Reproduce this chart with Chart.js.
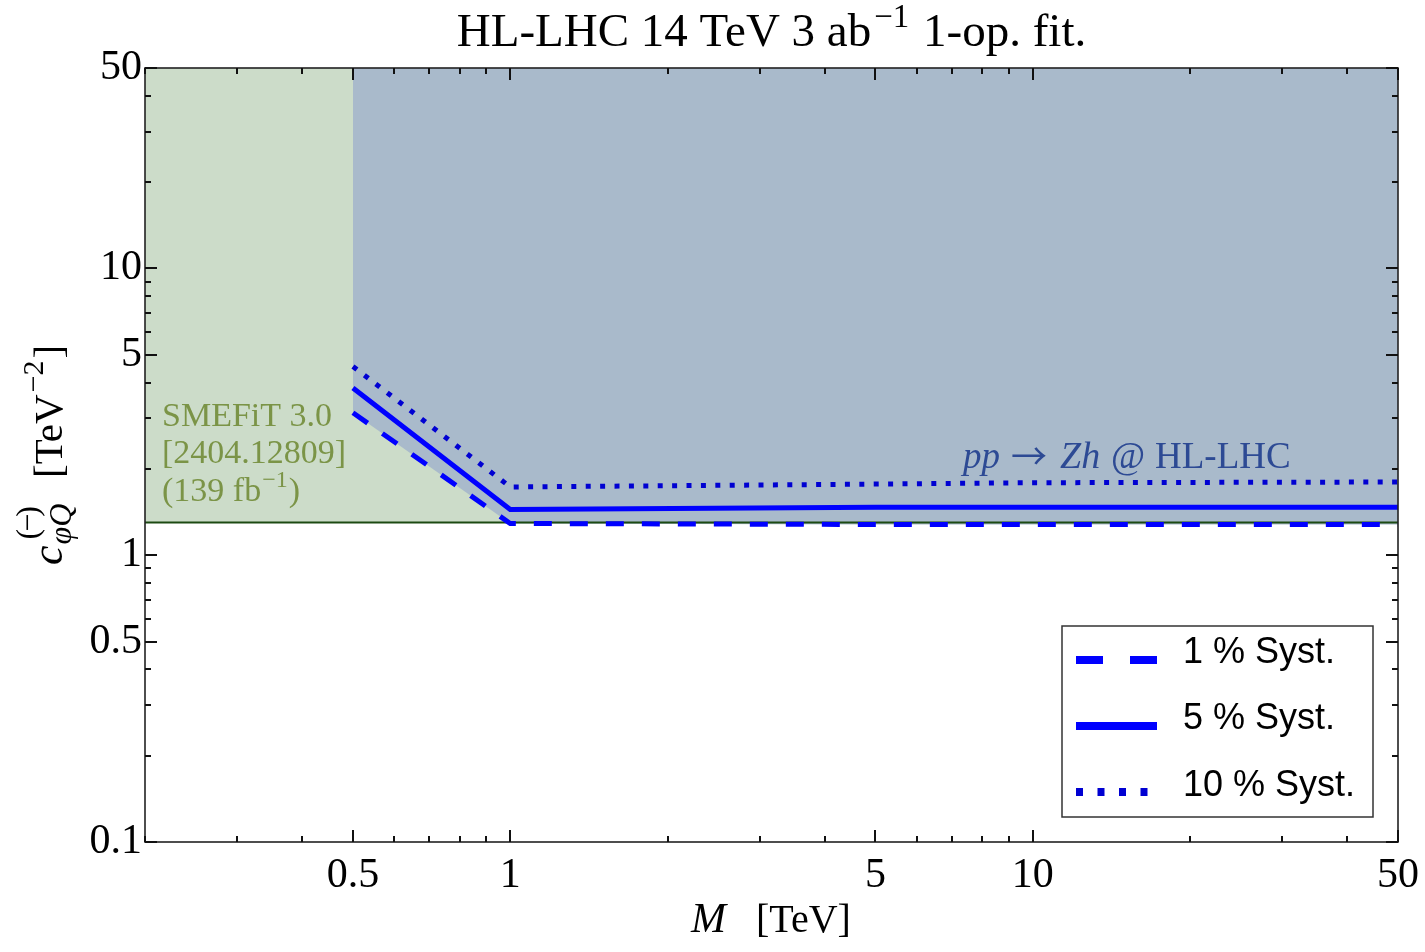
<!DOCTYPE html>
<html>
<head>
<meta charset="utf-8">
<script src="https://cdn.jsdelivr.net/npm/chart.js@4.4.1/dist/chart.umd.min.js"></script>
<style>
  html, body { margin: 0; padding: 0; background: #ffffff; }
  #wrap { width: 1425px; height: 952px; position: relative; }
</style>
</head>
<body>
<div id="wrap"><canvas id="chart" width="1425" height="952"></canvas></div>
<script>
// Mediator mass M [TeV] at which the bounds were evaluated
const massTeV = [0.5, 1, 5, 10, 50];
// Bounds on c_phiQ^(-) [TeV^-2] from pp -> Zh at HL-LHC, per systematic scenario
const syst1  = [3.14, 1.29, 1.28, 1.28, 1.28];
const syst5  = [3.83, 1.445, 1.47, 1.47, 1.47];
const syst10 = [4.55, 1.73, 1.77, 1.79, 1.80];
// SMEFiT 3.0 global-fit bound, constant in M
const smefitMass  = [0.2, 50];
const smefitBound = [1.30, 1.30];

const seriesLabels = ['1 % Syst.', '5 % Syst.', '10 % Syst.'];

// Axis ticks
const xMajorTicks = [0.5, 1, 5, 10, 50];
const xTickLabels = ['0.5', '1', '5', '10', '50'];
const xMinorTicks = [0.2, 0.3, 0.4, 0.6, 0.7, 0.8, 0.9, 2, 3, 4, 6, 7, 8, 9, 20, 30, 40];
const yMajorTicks = [0.1, 0.5, 1, 5, 10, 50];
const yTickLabels = ['0.1', '0.5', '1', '5', '10', '50'];
const yMinorTicks = [0.2, 0.3, 0.4, 0.6, 0.7, 0.8, 0.9, 2, 3, 4, 6, 7, 8, 9, 20, 30, 40];

const SERIF = "'Liberation Serif', 'Times New Roman', serif";
const SANS = "'Liberation Sans', Arial, sans-serif";
const ARROW_FONT = "'Noto Sans CJK JP', 'DejaVu Sans', sans-serif";

const toPoints = (xs, ys) => xs.map((x, i) => ({ x: x, y: ys[i] }));

const BLUE = '#0000ff';
const BLUE_DOT = '#0000d2';

const lineStyles = [
  { color: BLUE, dash: [18, 18], legendDash: [27, 27] },
  { color: BLUE, dash: [], legendDash: [] },
  { color: BLUE_DOT, dash: [5, 9.4], legendDash: [7, 14.5] }
];

// Draws text pieces with superscripts, left to right; returns the end x
function drawRun(ctx, pieces, x, y) {
  for (const p of pieces) {
    ctx.font = p.font;
    ctx.fillText(p.text, x, y + (p.dy || 0));
    x += ctx.measureText(p.text).width + (p.after || 0);
  }
  return x;
}
function runWidth(ctx, pieces) {
  let w = 0;
  for (const p of pieces) {
    ctx.font = p.font;
    w += ctx.measureText(p.text).width + (p.after || 0);
  }
  return w;
}

const decorations = {
  id: 'decorations',
  afterDraw(chart) {
    const { ctx, chartArea: a, scales } = chart;
    const xs = scales.x, ys = scales.y;
    ctx.save();

    // Frame
    ctx.strokeStyle = '#222';
    ctx.lineWidth = 1.6;
    ctx.strokeRect(a.left, a.top, a.right - a.left, a.bottom - a.top);

    // Inward tick marks on all four sides
    ctx.lineWidth = 2;
    ctx.strokeStyle = '#111';
    const xTicks = (vals, len) => {
      for (const v of vals) {
        const px = Math.round(xs.getPixelForValue(v));
        ctx.beginPath();
        ctx.moveTo(px, a.bottom); ctx.lineTo(px, a.bottom - len);
        ctx.moveTo(px, a.top); ctx.lineTo(px, a.top + len);
        ctx.stroke();
      }
    };
    const yTicks = (vals, len) => {
      for (const v of vals) {
        const py = Math.round(ys.getPixelForValue(v));
        ctx.beginPath();
        ctx.moveTo(a.left, py); ctx.lineTo(a.left + len, py);
        ctx.moveTo(a.right, py); ctx.lineTo(a.right - len, py);
        ctx.stroke();
      }
    };
    xTicks(xMajorTicks, 12); xTicks(xMinorTicks, 6);
    yTicks(yMajorTicks, 12); yTicks(yMinorTicks, 6);

    ctx.textAlign = 'left';
    ctx.textBaseline = 'alphabetic';

    // SMEFiT annotation
    ctx.fillStyle = '#7b9447';
    ctx.font = '34px ' + SERIF;
    ctx.fillText('SMEFiT 3.0', 162, 426);
    ctx.fillText('[2404.12809]', 162, 463);
    drawRun(ctx, [
      { text: '(139 fb', font: '34px ' + SERIF, after: 1 },
      { text: '\u22121', font: '24px ' + SERIF, dy: -14, after: 1 },
      { text: ')', font: '34px ' + SERIF }
    ], 162, 501);

    // Process annotation
    ctx.fillStyle = '#2d4a94';
    ctx.font = 'italic 37px ' + SERIF; ctx.fillText('pp', 963, 468);
    ctx.font = '36px ' + ARROW_FONT; ctx.fillText('\u2192', 1011, 470);
    ctx.font = 'italic 38px ' + SERIF; ctx.fillText('Zh', 1060, 468);
    ctx.font = '37px ' + SERIF; ctx.fillText('@', 1111, 468);
    ctx.font = '37px ' + SERIF; ctx.fillText('HL-LHC', 1155, 468);

    // Legend
    const lx = 1062, ly = 626, lw = 311, lh = 191;
    ctx.fillStyle = '#ffffff';
    ctx.fillRect(lx, ly, lw, lh);
    ctx.strokeStyle = '#333';
    ctx.lineWidth = 1.5;
    ctx.strokeRect(lx, ly, lw, lh);
    const rowLine = [660, 726, 792];
    const rowText = [663, 729, 796];
    for (let i = 0; i < seriesLabels.length; i++) {
      const st = lineStyles[i];
      ctx.strokeStyle = st.color;
      ctx.lineWidth = 8;
      ctx.lineCap = 'butt';
      ctx.setLineDash(st.legendDash);
      ctx.beginPath();
      ctx.moveTo(1076, rowLine[i]);
      ctx.lineTo(1157, rowLine[i]);
      ctx.stroke();
      ctx.setLineDash([]);
      ctx.fillStyle = '#000';
      ctx.font = '36px ' + SANS;
      ctx.fillText(seriesLabels[i], 1183, rowText[i]);
    }

    // Title
    const cx = (a.left + a.right) / 2;
    ctx.fillStyle = '#000';
    const title = [
      { text: 'HL-LHC 14 TeV 3 ab', font: '47px ' + SERIF, after: 3 },
      { text: '\u22121', font: '33px ' + SERIF, dy: -19, after: 2 },
      { text: ' 1-op. fit.', font: '47px ' + SERIF }
    ];
    drawRun(ctx, title, cx - runWidth(ctx, title) / 2, 46);

    // X axis title
    ctx.font = 'italic 42px ' + SERIF;
    ctx.fillText('M', 691, 932);
    ctx.font = '40px ' + SERIF;
    ctx.fillText('[TeV]', 756, 932);

    // Y axis title (rotated)
    ctx.save();
    ctx.translate(62, 565);
    ctx.rotate(-Math.PI / 2);
    ctx.font = 'italic 44px ' + SERIF;
    ctx.fillText('c', 0, 0);
    const sx = ctx.measureText('c').width + 1;
    ctx.font = 'italic 32px ' + SERIF;
    ctx.fillText('\u03C6Q', sx, 9);
    ctx.font = '32px ' + SERIF;
    ctx.letterSpacing = '-3px';
    ctx.fillText('(\u2212)', sx + 5, -24);
    ctx.letterSpacing = '0px';
    let tx = 87;
    ctx.font = '41px ' + SERIF;
    ctx.fillText('[TeV', tx, 0);
    tx += ctx.measureText('[TeV').width + 2;
    ctx.font = '30px ' + SERIF;
    ctx.fillText('\u22122', tx, -19);
    tx += ctx.measureText('\u22122').width + 2;
    ctx.font = '41px ' + SERIF;
    ctx.fillText(']', tx, 0);
    ctx.restore();

    ctx.restore();
  }
};

const lineDataset = (label, ys, st, order) => ({
  label: label,
  data: toPoints(massTeV, ys),
  borderColor: st.color,
  borderWidth: 5,
  borderDash: st.dash,
  borderCapStyle: 'butt',
  borderJoinStyle: 'miter',
  pointRadius: 0,
  fill: false,
  tension: 0,
  order: order
});

new Chart(document.getElementById('chart'), {
  type: 'line',
  data: {
    datasets: [
      lineDataset(seriesLabels[0], syst1, lineStyles[0], 0),
      lineDataset(seriesLabels[1], syst5, lineStyles[1], 1),
      lineDataset(seriesLabels[2], syst10, lineStyles[2], 2),
      {
        label: 'Zh allowed region',
        data: toPoints(massTeV, syst1),
        borderWidth: 0,
        borderColor: 'rgba(0,0,0,0)',
        backgroundColor: '#a9bacb',
        pointRadius: 0,
        fill: 'end',
        tension: 0,
        order: 3
      },
      {
        label: 'SMEFiT 3.0',
        data: toPoints(smefitMass, smefitBound),
        borderWidth: 2,
        borderColor: '#1c4a12',
        backgroundColor: '#ccdcc9',
        pointRadius: 0,
        fill: 'end',
        tension: 0,
        order: 4
      }
    ]
  },
  options: {
    responsive: false,
    animation: false,
    events: [],
    layout: { padding: { top: 68, right: 27, left: 0, bottom: 0 } },
    plugins: {
      legend: { display: false },
      title: { display: false },
      tooltip: { enabled: false },
      filler: { drawTime: 'beforeDatasetsDraw' }
    },
    scales: {
      x: {
        type: 'logarithmic',
        min: 0.2,
        max: 50,
        grid: { display: false, drawTicks: false },
        border: { display: false },
        afterBuildTicks: (scale) => { scale.ticks = xMajorTicks.map(v => ({ value: v })); },
        afterFit: (scale) => { scale.height = 110; scale.paddingRight = 0; scale.paddingLeft = 0; },
        ticks: {
          autoSkip: false,
          maxRotation: 0,
          padding: 9,
          color: '#000',
          font: { family: SERIF, size: 42 },
          callback: (v) => { const i = xMajorTicks.indexOf(v); return i >= 0 ? xTickLabels[i] : ''; }
        }
      },
      y: {
        type: 'logarithmic',
        min: 0.1,
        max: 50,
        grid: { display: false, drawTicks: false },
        border: { display: false },
        afterBuildTicks: (scale) => { scale.ticks = yMajorTicks.map(v => ({ value: v })); },
        afterFit: (scale) => { scale.width = 145; scale.paddingTop = 0; scale.paddingBottom = 0; },
        ticks: {
          autoSkip: false,
          padding: 3,
          color: '#000',
          font: { family: SERIF, size: 42 },
          callback: (v) => { const i = yMajorTicks.indexOf(v); return i >= 0 ? yTickLabels[i] : ''; }
        }
      }
    }
  },
  plugins: [decorations]
});
</script>
</body>
</html>
